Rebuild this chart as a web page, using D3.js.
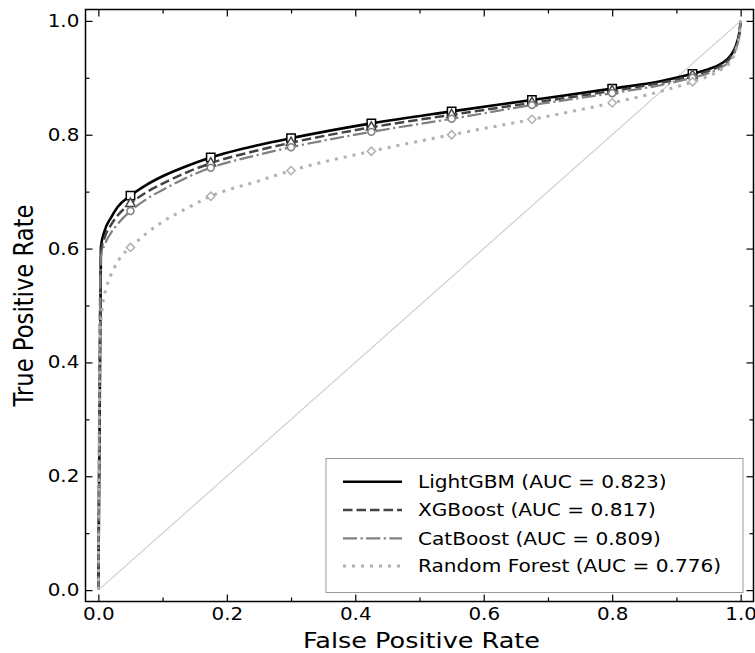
<!DOCTYPE html>
<html><head><meta charset="utf-8">
<script src="https://cdn.jsdelivr.net/npm/d3@7"></script>
<style>html,body{margin:0;padding:0;background:#fff;} svg{display:block;} text{font-family:"DejaVu Sans",sans-serif;fill:#000;}</style>
</head><body><svg id="c" width="755" height="653"></svg>
<script>
// ---- data ----
const seriesNames = ["LightGBM", "XGBoost", "CatBoost", "Random Forest"];
const aucValues = [0.823, 0.817, 0.809, 0.776];
const fprBoost = [0, 0.004, 0.01, 0.02, 0.03, 0.05, 0.075, 0.1, 0.14, 0.175, 0.25, 0.3, 0.425, 0.55, 0.675, 0.8, 0.875, 0.925, 0.95, 0.97, 0.985, 0.993, 0.998, 1];
const tprLGBM = [0, 0.603, 0.632, 0.655, 0.673, 0.693, 0.712, 0.727, 0.746, 0.760, 0.782, 0.794, 0.820, 0.841, 0.861, 0.881, 0.894, 0.907, 0.915, 0.925, 0.940, 0.958, 0.980, 1];
const tprXGB  = [0, 0.594, 0.620, 0.642, 0.658, 0.679, 0.699, 0.714, 0.735, 0.750, 0.773, 0.786, 0.813, 0.835, 0.856, 0.877, 0.891, 0.904, 0.912, 0.922, 0.937, 0.955, 0.978, 1];
const tprCat  = [0, 0.585, 0.607, 0.628, 0.643, 0.666, 0.687, 0.703, 0.726, 0.742, 0.765, 0.778, 0.805, 0.828, 0.852, 0.873, 0.887, 0.900, 0.908, 0.918, 0.933, 0.952, 0.976, 1];
const fprRF = [0, 0.003, 0.006, 0.013, 0.023, 0.036, 0.05, 0.075, 0.1, 0.14, 0.175, 0.25, 0.3, 0.425, 0.55, 0.675, 0.8, 0.875, 0.925, 0.95, 0.97, 0.985, 0.993, 0.998, 1];
const tprRF  = [0, 0.450, 0.495, 0.533, 0.562, 0.587, 0.602, 0.627, 0.647, 0.672, 0.692, 0.719, 0.737, 0.771, 0.800, 0.827, 0.856, 0.876, 0.893, 0.903, 0.915, 0.930, 0.950, 0.975, 1];
const markerFpr = [0.05, 0.175, 0.3, 0.425, 0.55, 0.675, 0.8, 0.925];
const majorTicks = [0, 0.2, 0.4, 0.6, 0.8, 1.0];
const minorTicks = [0.1, 0.3, 0.5, 0.7, 0.9];
const xLabel = "False Positive Rate";
const yLabel = "True Positive Rate";

// ---- styles ----
const styles = [
  {color: "#000000", width: 2.6, dash: null, marker: d3.symbolSquare, msize: 70, rot: 0},
  {color: "#444444", width: 2.5, dash: "9.5,4", marker: d3.symbolTriangle, msize: 40, rot: 0},
  {color: "#808080", width: 2.2, dash: "14,3.5,2.2,3.5", marker: d3.symbolCircle, msize: 38, rot: 0},
  {color: "#b0b0b0", width: 3, dash: "3,6", marker: d3.symbolSquare, msize: 34, rot: 45}
];
const SX = 1.17; // horizontal text stretch

const datasets = [
  fprBoost.map((f, i) => [f, tprLGBM[i]]),
  fprBoost.map((f, i) => [f, tprXGB[i]]),
  fprBoost.map((f, i) => [f, tprCat[i]]),
  fprRF.map((f, i) => [f, tprRF[i]])
];

const svg = d3.select("#c");
const x = d3.scaleLinear().domain([-0.02, 1.02]).range([85.5, 753.5]);
const y = d3.scaleLinear().domain([-0.02, 1.02]).range([601.5, 9.5]);
const [L, R] = x.range(), [B, T] = y.range();

// diagonal
svg.append("line").attr("x1", x(0)).attr("y1", y(0)).attr("x2", x(1)).attr("y2", y(1))
  .attr("stroke", "#cccccc").attr("stroke-width", 1.1);

const line = d3.line().x(d => x(d[0])).y(d => y(d[1])).curve(d3.curveMonotoneX);

datasets.forEach((data, i) => {
  const s = styles[i];
  svg.append("path").datum(data).attr("d", line).attr("fill", "none")
    .attr("stroke", s.color).attr("stroke-width", s.width)
    .attr("stroke-dasharray", s.dash).attr("stroke-linejoin", "round");
  const marks = data.filter(d => markerFpr.some(m => Math.abs(m - d[0]) < 1e-9));
  svg.selectAll(null).data(marks).enter().append("path")
    .attr("d", d3.symbol().type(s.marker).size(s.msize))
    .attr("transform", d => `translate(${x(d[0])},${y(d[1])}) rotate(${s.rot})`)
    .attr("fill", "#fff").attr("stroke", s.color).attr("stroke-width", 1.5);
});

// axes (inward ticks)
function axisGroup(axisFn, transform, ticks, size, labels) {
  const g = svg.append("g").attr("transform", transform)
    .call(axisFn.tickValues(ticks).tickSizeInner(size).tickSizeOuter(0).tickPadding(labels ? 6 : 0)
      .tickFormat(labels ? d3.format(".1f") : ""));
  g.select(".domain").remove();
  g.selectAll(".tick line").attr("stroke", "#000").attr("stroke-width", 1.2);
  g.selectAll("text").attr("font-size", 17).attr("font-family", "DejaVu Sans");
  return g;
}
const gb = axisGroup(d3.axisBottom(x), `translate(0,${B})`, majorTicks, -7, true);
gb.selectAll("text").attr("transform", `scale(${SX},1)`);
axisGroup(d3.axisBottom(x), `translate(0,${B})`, minorTicks, -4, false);
const gl = axisGroup(d3.axisLeft(y), `translate(${L},0)`, majorTicks, -7, true);
gl.selectAll("text").attr("x", -5.3).attr("transform", `scale(${SX},1)`);
axisGroup(d3.axisLeft(y), `translate(${L},0)`, minorTicks, -4, false);
axisGroup(d3.axisTop(x), `translate(0,${T})`, majorTicks, -7, false);
axisGroup(d3.axisTop(x), `translate(0,${T})`, minorTicks, -4, false);
axisGroup(d3.axisRight(y), `translate(${R},0)`, majorTicks, -7, false);
axisGroup(d3.axisRight(y), `translate(${R},0)`, minorTicks, -4, false);

// spines
svg.append("rect").attr("x", L).attr("y", T).attr("width", R - L).attr("height", B - T)
  .attr("fill", "none").attr("stroke", "#000").attr("stroke-width", 1.5);

// axis labels
svg.append("text").attr("transform", `translate(${(x(0) + x(1)) / 2 + 2},647.5) scale(${SX},1)`)
  .attr("text-anchor", "middle").attr("font-size", 21.8).text(xLabel);
svg.append("text").attr("transform", `translate(33,${(y(0) + y(1)) / 2}) scale(${SX},1) rotate(-90)`)
  .attr("text-anchor", "middle").attr("font-size", 22.7).text(yLabel);

// legend
const lg = svg.append("g");
lg.append("rect").attr("x", 326).attr("y", 458.5).attr("width", 417).attr("height", 134)
  .attr("fill", "#fff").attr("stroke", "#999").attr("stroke-width", 1);
const rowY = [481.7, 510, 538.3, 566];
seriesNames.forEach((name, i) => {
  const s = styles[i];
  lg.append("line").attr("x1", 343).attr("x2", 402).attr("y1", rowY[i]).attr("y2", rowY[i])
    .attr("stroke", s.color).attr("stroke-width", s.width).attr("stroke-dasharray", s.dash);
  lg.append("text").attr("transform", `translate(418,${rowY[i] + 6.4}) scale(1.15,1)`)
    .attr("font-size", 17.5).text(`${name} (AUC = ${aucValues[i].toFixed(3)})`);
});
</script></body></html>
